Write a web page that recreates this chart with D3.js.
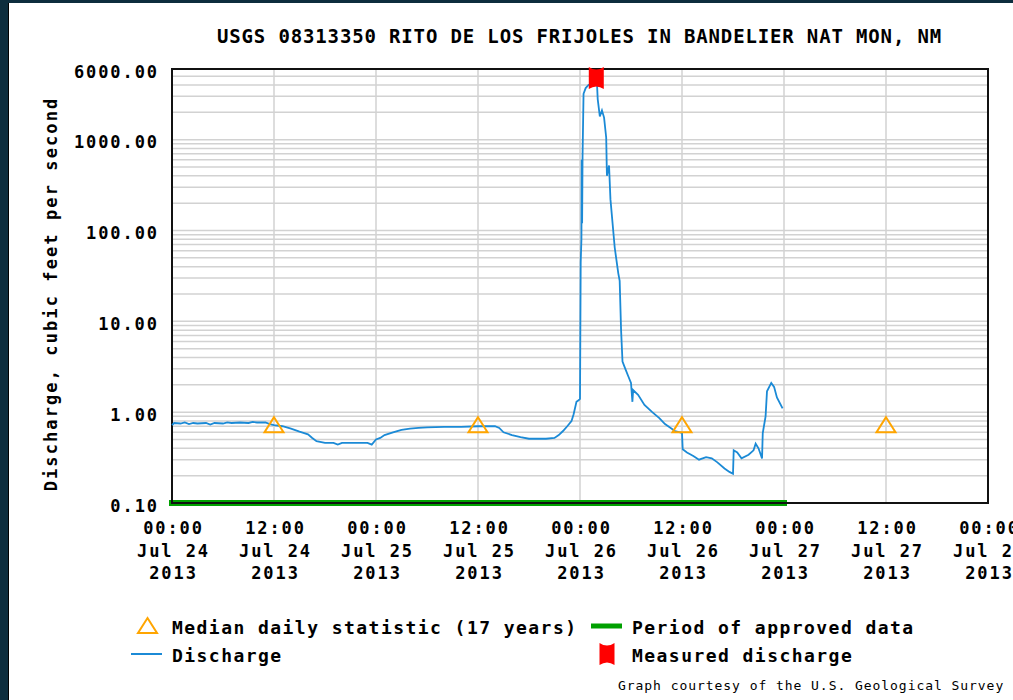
<!DOCTYPE html>
<html>
<head>
<meta charset="utf-8">
<script src="https://cdn.jsdelivr.net/npm/d3@7"></script>
<style>
  html, body { margin: 0; padding: 0; background: #0d2d3d; }
  svg { display: block; }
  text { font-family: "DejaVu Sans Mono", "Liberation Mono", monospace; fill: #000; }
</style>
</head>
<body>
<svg id="chart" width="1013" height="700"></svg>
<script>
// ---------------- DATA ----------------
const titleText = "USGS 08313350 RITO DE LOS FRIJOLES IN BANDELIER NAT MON, NM";
const yAxisTitle = "Discharge, cubic feet per second";
const yTickValues = [0.1, 1, 10, 100, 1000, 6000];
const xDomain = ["2013-07-24T00:00", "2013-07-28T00:00"];
const xTickTimes = ["2013-07-24T00:00", "2013-07-24T12:00", "2013-07-25T00:00", "2013-07-25T12:00",
                    "2013-07-26T00:00", "2013-07-26T12:00", "2013-07-27T00:00", "2013-07-27T12:00",
                    "2013-07-28T00:00"];

const dischargeTimes = [
  "2013-07-24T00:00","2013-07-24T00:15","2013-07-24T01:00","2013-07-24T01:30","2013-07-24T02:00",
  "2013-07-24T02:30","2013-07-24T03:00","2013-07-24T04:00","2013-07-24T04:30","2013-07-24T05:00",
  "2013-07-24T06:00","2013-07-24T06:30","2013-07-24T07:00","2013-07-24T08:00","2013-07-24T09:00",
  "2013-07-24T09:30","2013-07-24T10:00","2013-07-24T11:00","2013-07-24T11:30","2013-07-24T12:00",
  "2013-07-24T13:00","2013-07-24T14:00","2013-07-24T15:00","2013-07-24T16:00","2013-07-24T16:30",
  "2013-07-24T17:00","2013-07-24T18:00","2013-07-24T19:00","2013-07-24T19:30","2013-07-24T20:00",
  "2013-07-24T21:00","2013-07-24T22:00","2013-07-24T23:00","2013-07-24T23:30",
  "2013-07-25T00:00","2013-07-25T00:30","2013-07-25T01:00","2013-07-25T02:00","2013-07-25T02:30",
  "2013-07-25T03:00","2013-07-25T04:00","2013-07-25T05:00","2013-07-25T06:00","2013-07-25T08:00",
  "2013-07-25T10:00","2013-07-25T12:00","2013-07-25T14:00","2013-07-25T14:30","2013-07-25T15:00",
  "2013-07-25T16:00","2013-07-25T17:00","2013-07-25T18:00","2013-07-25T19:00","2013-07-25T20:00",
  "2013-07-25T21:00","2013-07-25T21:30","2013-07-25T22:00","2013-07-25T22:30","2013-07-25T23:00",
  "2013-07-25T23:15","2013-07-25T23:35","2013-07-25T23:50",
  "2013-07-26T00:00","2013-07-26T00:05","2013-07-26T00:10","2013-07-26T00:12","2013-07-26T00:15",
  "2013-07-26T00:18","2013-07-26T00:25","2013-07-26T00:40","2013-07-26T01:00","2013-07-26T01:35",
  "2013-07-26T02:00","2013-07-26T02:05","2013-07-26T02:20","2013-07-26T02:35","2013-07-26T02:50",
  "2013-07-26T03:05","2013-07-26T03:10","2013-07-26T03:25","2013-07-26T03:35","2013-07-26T04:05",
  "2013-07-26T04:30","2013-07-26T04:40","2013-07-26T04:50","2013-07-26T05:00","2013-07-26T05:20",
  "2013-07-26T05:40","2013-07-26T06:00","2013-07-26T06:10","2013-07-26T06:15","2013-07-26T06:50",
  "2013-07-26T07:35","2013-07-26T08:30","2013-07-26T09:20","2013-07-26T10:00","2013-07-26T11:10",
  "2013-07-26T12:00","2013-07-26T12:05","2013-07-26T12:35","2013-07-26T13:20","2013-07-26T14:00",
  "2013-07-26T14:50","2013-07-26T15:30","2013-07-26T16:10","2013-07-26T17:00","2013-07-26T17:35",
  "2013-07-26T18:00","2013-07-26T18:05","2013-07-26T18:30","2013-07-26T19:00","2013-07-26T19:50",
  "2013-07-26T20:25","2013-07-26T20:40","2013-07-26T21:00","2013-07-26T21:25","2013-07-26T21:30",
  "2013-07-26T21:50","2013-07-26T22:00","2013-07-26T22:30","2013-07-26T22:50","2013-07-26T23:10",
  "2013-07-26T23:50"
];
const dischargeValues = [
  0.72, 0.76, 0.75, 0.77, 0.74,
  0.76, 0.75, 0.76, 0.73, 0.76,
  0.75, 0.77, 0.76, 0.77, 0.76,
  0.78, 0.77, 0.77, 0.74, 0.72,
  0.70, 0.66, 0.61, 0.57, 0.52,
  0.48, 0.46, 0.46, 0.44, 0.46,
  0.46, 0.46, 0.46, 0.44,
  0.50, 0.52, 0.56, 0.60, 0.62,
  0.64, 0.66, 0.67, 0.68, 0.69,
  0.69, 0.70, 0.70, 0.67, 0.60,
  0.56, 0.53, 0.51, 0.51, 0.51,
  0.52, 0.56, 0.62, 0.70, 0.80,
  0.95, 1.30, 1.35,
  1.40, 45, 80, 600, 120,
  650, 3200, 3700, 4000, 4200,
  4100, 2800, 1800, 2100, 1750,
  1050, 400, 520, 220, 65,
  34, 28, 8, 3.6, 3.0,
  2.5, 2.1, 1.3, 1.75, 1.55,
  1.2, 1.0, 0.86, 0.74, 0.62,
  0.59, 0.39, 0.36, 0.33, 0.30,
  0.32, 0.31, 0.28, 0.24, 0.22,
  0.21, 0.38, 0.36, 0.31, 0.34,
  0.38, 0.45, 0.40, 0.31, 0.59,
  0.90, 1.70, 2.10, 1.90, 1.45,
  1.10
];

const medianTimes = ["2013-07-24T12:00", "2013-07-25T12:00", "2013-07-26T12:00", "2013-07-27T12:00"];
const medianValues = [0.71, 0.71, 0.71, 0.71];

const measuredTimes = ["2013-07-26T01:55"];
const measuredValues = [4770];

const approvedPeriod = ["2013-07-24T00:00", "2013-07-27T00:00"];

const legendLabels = ["Median daily statistic (17 years)", "Period of approved data", "Discharge", "Measured discharge"];
const footerText = "Graph courtesy of the U.S. Geological Survey";

// ---------------- CHART ----------------
const parse = d3.utcParse("%Y-%m-%dT%H:%M");
const svg = d3.select("#chart");

const plot = { left: 172, right: 988, top: 69, bottom: 503 };

svg.append("rect").attr("x", 9).attr("y", 3).attr("width", 1004).attr("height", 697).attr("fill", "#fff");
svg.append("line").attr("x1", 8.5).attr("x2", 8.5).attr("y1", 3).attr("y2", 700).attr("stroke", "#000").attr("stroke-width", 1);

const x = d3.scaleUtc().domain(xDomain.map(parse)).range([plot.left, plot.right]);
const y = d3.scaleLog().domain([0.1, 6000]).range([plot.bottom, plot.top]);

// grid
const grid = svg.append("g").attr("stroke", "#d2d2d2").attr("stroke-width", 1.5);
const minorVals = [];
[0.1, 1, 10, 100, 1000].forEach(d => { for (let k = 1; k <= 9; k++) { const v = k * d; if (v <= 6000.001) minorVals.push(v); } });
grid.selectAll("line.h").data(minorVals).join("line").attr("class", "h")
  .attr("x1", plot.left).attr("x2", plot.right).attr("y1", d => y(d)).attr("y2", d => y(d));
grid.selectAll("line.v").data(xTickTimes.map(parse)).join("line").attr("class", "v")
  .attr("x1", d => x(d)).attr("x2", d => x(d)).attr("y1", plot.top).attr("y2", plot.bottom);

// approved period bar
svg.append("line")
  .attr("x1", x(parse(approvedPeriod[0]))).attr("x2", x(parse(approvedPeriod[1])))
  .attr("y1", plot.bottom).attr("y2", plot.bottom)
  .attr("stroke", "#00a000").attr("stroke-width", 6).attr("stroke-linecap", "square");

// border
svg.append("rect").attr("x", plot.left).attr("y", plot.top)
  .attr("width", plot.right - plot.left).attr("height", plot.bottom - plot.top)
  .attr("fill", "none").attr("stroke", "#111").attr("stroke-width", 2);

// discharge line
const series = dischargeTimes.map((t, i) => ({ t: parse(t), v: dischargeValues[i] }));
const lineGen = d3.line().x(d => x(d.t)).y(d => y(d.v));
svg.append("path").datum(series).attr("d", lineGen)
  .attr("fill", "none").attr("stroke", "#1b8ad6").attr("stroke-width", 1.8).attr("stroke-linejoin", "miter");

// median triangles
const triPath = "M0,-8.5 L9.5,6.5 L-9.5,6.5 Z";
svg.selectAll("path.median").data(medianTimes.map((t, i) => ({ t: parse(t), v: medianValues[i] })))
  .join("path").attr("class", "median")
  .attr("d", triPath)
  .attr("transform", d => `translate(${x(d.t)},${y(d.v)})`)
  .attr("fill", "none").attr("stroke", "#ffa500").attr("stroke-width", 2);

// measured discharge marker
const markPath = "M-7.5,-11 Q0,-6 7.5,-11 L7.5,11 Q0,6 -7.5,11 Z";
svg.selectAll("path.measured").data(measuredTimes.map((t, i) => ({ t: parse(t), v: measuredValues[i] })))
  .join("path").attr("class", "measured")
  .attr("d", markPath)
  .attr("transform", d => `translate(${x(d.t)},${y(d.v)})`)
  .attr("fill", "#ff0000");

// y axis
const lsY = 1.9;
const yAxis = d3.axisLeft(y).tickValues(yTickValues).tickSize(0).tickPadding(15 - lsY).tickFormat(d3.format(".2f"));
const gy = svg.append("g").attr("transform", `translate(${plot.left},0)`).call(yAxis);
gy.select(".domain").remove();
gy.selectAll("text").attr("font-family", "DejaVu Sans Mono").attr("font-weight", "bold")
  .attr("font-size", 17).attr("letter-spacing", lsY).attr("dy", "0.47em").attr("fill", "#000");

// x axis
const fH = d3.utcFormat("%H:%M"), fD = d3.utcFormat("%b %d"), fY = d3.utcFormat("%Y");
const xAxis = d3.axisBottom(x).tickValues(xTickTimes.map(parse)).tickSize(0).tickFormat(() => "");
const gx = svg.append("g").attr("transform", `translate(0,${plot.bottom})`).call(xAxis);
gx.select(".domain").remove();
gx.selectAll(".tick text").attr("dy", null).attr("y", null)
  .attr("font-family", "DejaVu Sans Mono").attr("font-weight", "bold").attr("font-size", 17)
  .attr("letter-spacing", 1.9).attr("fill", "#000")
  .each(function(d) {
    const t = d3.select(this);
    [[fH(d), 31], [fD(d), 54], [fY(d), 76]].forEach(([s, yy]) => {
      t.append("tspan").attr("x", 1).attr("y", yy).text(s);
    });
  });

// titles
svg.append("text").attr("x", 217).attr("y", 43)
  .attr("font-weight", "bold").attr("font-size", 19).attr("letter-spacing", 0.85)
  .text(titleText);
svg.append("text").attr("transform", "translate(57,294) rotate(-90)")
  .attr("text-anchor", "middle").attr("font-weight", "bold").attr("font-size", 17).attr("letter-spacing", 2.1)
  .text(yAxisTitle);

// legend
const lg = svg.append("g");
lg.append("path").attr("d", "M0,-7.5 L9.5,7.5 L-9.5,7.5 Z").attr("transform", "translate(147.5,625.5)")
  .attr("fill", "none").attr("stroke", "#ffa500").attr("stroke-width", 2);
lg.append("line").attr("x1", 131).attr("x2", 162).attr("y1", 654).attr("y2", 654)
  .attr("stroke", "#1b8ad6").attr("stroke-width", 2);
lg.append("line").attr("x1", 591).attr("x2", 622).attr("y1", 626).attr("y2", 626)
  .attr("stroke", "#00a000").attr("stroke-width", 5);
lg.append("path").attr("d", markPath).attr("transform", "translate(607,654)").attr("fill", "#ff0000");
const legPos = [[172, 634], [632, 634], [172, 662], [632, 662]];
lg.selectAll("text").data(legendLabels).join("text")
  .attr("x", (d, i) => legPos[i][0]).attr("y", (d, i) => legPos[i][1])
  .attr("font-weight", "bold").attr("font-size", 18).attr("letter-spacing", 1.45)
  .text(d => d);

svg.append("text").attr("x", 618).attr("y", 690)
  .attr("font-size", 13).attr("letter-spacing", 0.95)
  .text(footerText);
</script>
</body>
</html>
